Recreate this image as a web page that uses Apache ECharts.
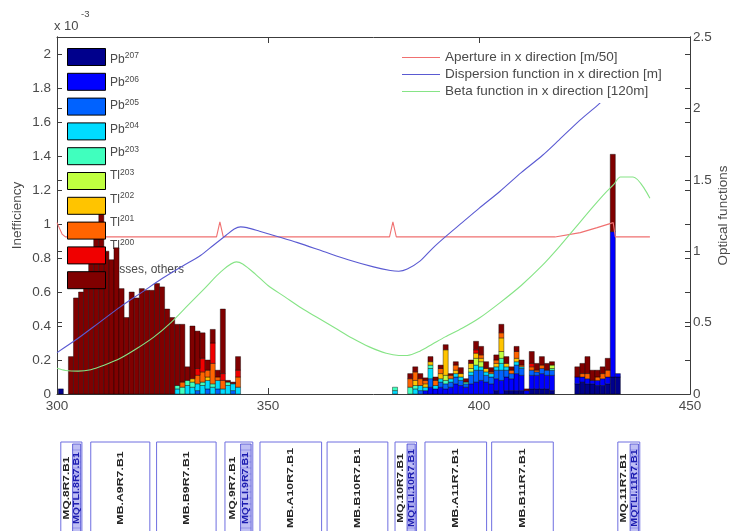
<!DOCTYPE html>
<html>
<head>
<meta charset="utf-8">
<script src="https://cdn.jsdelivr.net/npm/echarts@6/dist/echarts.min.js"></script>
<style>
  html, body { margin: 0; padding: 0; background: #fff; }
  #chart { width: 732px; height: 531px; }
</style>
</head>
<body>
<div id="chart"></div>
<script>
// ---- Loss histogram: bin left edges along s [m], each bin BIN_WIDTH wide ----
const BIN_WIDTH = 1.2;
const binStart = [300.3,
  302.7, 303.9, 305.1, 306.3, 307.5, 308.7, 309.9, 311.1, 312.3, 313.5,
  314.7, 315.9, 317.1, 318.3, 319.5, 320.7, 321.9, 323.1, 324.3, 325.5,
  326.7, 327.9, 329.1, 330.3, 331.5, 332.7, 333.9, 335.1, 336.3, 337.5,
  338.7, 339.9, 341.1, 342.3,
  379.5,
  383.1, 384.3, 385.5, 386.7, 387.9, 389.1, 390.3, 391.5, 392.7, 393.9,
  395.1, 396.3, 397.5, 398.7, 399.9, 401.1, 402.3, 403.5, 404.7, 405.9,
  407.1, 408.3, 409.5, 410.7, 411.9, 413.1, 414.3, 415.5, 416.7,
  422.7, 423.9, 425.1, 426.3, 427.5, 428.7, 429.9, 431.1, 432.3];

// Inefficiency per bin for each fragment species, in units of 1e-3
const pb207 = [0.03,
  0, 0, 0, 0, 0, 0, 0, 0, 0, 0,
  0, 0, 0, 0, 0, 0, 0, 0, 0, 0,
  0, 0, 0, 0, 0, 0, 0, 0, 0, 0,
  0, 0, 0, 0,
  0,
  0, 0, 0, 0, 0, 0, 0, 0, 0, 0,
  0, 0, 0, 0, 0, 0, 0, 0.02, 0, 0.02,
  0.02, 0.02, 0.02, 0, 0.03, 0.03, 0.03, 0.03, 0.02,
  0.06, 0.07, 0.06, 0.06, 0.05, 0.05, 0.06, 0.10, 0.10];
const pb206 = [0,
  0, 0, 0, 0, 0, 0, 0, 0, 0, 0,
  0, 0, 0, 0, 0, 0, 0, 0, 0, 0,
  0, 0, 0, 0, 0, 0, 0, 0, 0, 0,
  0, 0, 0, 0,
  0,
  0, 0, 0, 0.02, 0.04, 0.03, 0.04, 0.03, 0.04, 0.06,
  0.05, 0.04, 0.06, 0.07, 0.08, 0.07, 0.06, 0.07, 0.08, 0.08,
  0.07, 0.10, 0.09, 0.02, 0.08, 0.08, 0.09, 0.08, 0.09,
  0.04, 0.03, 0.03, 0.02, 0.03, 0.04, 0.04, 0.855, 0.02];
const pb205 = [0,
  0, 0, 0, 0, 0, 0, 0, 0, 0, 0,
  0, 0, 0, 0, 0, 0, 0, 0, 0, 0,
  0, 0, 0, 0, 0, 0.02, 0, 0.03, 0, 0.03,
  0, 0, 0.02, 0,
  0,
  0, 0, 0.02, 0, 0.05, 0, 0.03, 0.03, 0.03, 0.04,
  0.03, 0.02, 0.05, 0.07, 0.06, 0.04, 0.04, 0.05, 0.06, 0.04,
  0.03, 0.05, 0.04, 0, 0.03, 0.02, 0.03, 0.03, 0.03,
  0, 0, 0, 0, 0, 0, 0, 0, 0];
const pb204 = [0,
  0, 0, 0, 0, 0, 0, 0, 0, 0, 0,
  0, 0, 0, 0, 0, 0, 0, 0, 0, 0,
  0, 0.03, 0, 0.05, 0.04, 0.04, 0.05, 0.05, 0.04, 0.05,
  0.03, 0.05, 0.04, 0.04,
  0.02,
  0, 0.03, 0.03, 0.02, 0.06, 0.02, 0.02, 0, 0.02, 0.02,
  0.02, 0, 0.02, 0.03, 0.02, 0.02, 0.02, 0.02, 0.04, 0.02,
  0, 0.02, 0.01, 0, 0, 0, 0, 0, 0,
  0, 0, 0, 0, 0, 0, 0, 0, 0];
const pb203 = [0,
  0, 0, 0, 0, 0, 0, 0, 0, 0, 0,
  0, 0, 0, 0, 0, 0, 0, 0, 0, 0,
  0, 0.02, 0.04, 0.03, 0.03, 0, 0.02, 0, 0.02, 0,
  0, 0.02, 0, 0,
  0.02,
  0.04, 0.02, 0, 0, 0.02, 0, 0, 0.02, 0, 0,
  0, 0.01, 0, 0, 0, 0, 0, 0, 0.03, 0,
  0, 0, 0, 0, 0, 0, 0, 0, 0.01,
  0, 0, 0, 0, 0, 0, 0, 0, 0];
const tl203 = [0,
  0, 0, 0, 0, 0, 0, 0, 0, 0, 0,
  0, 0, 0, 0, 0, 0, 0, 0, 0, 0,
  0, 0, 0, 0, 0, 0, 0, 0, 0, 0,
  0, 0, 0, 0,
  0,
  0, 0, 0, 0, 0, 0, 0, 0.03, 0, 0,
  0, 0, 0.02, 0.04, 0.03, 0, 0, 0, 0.04, 0,
  0, 0, 0, 0, 0, 0, 0, 0, 0.02,
  0, 0, 0, 0, 0, 0, 0, 0, 0];
const tl202 = [0,
  0, 0, 0, 0, 0, 0, 0, 0, 0, 0,
  0, 0, 0, 0, 0, 0, 0, 0, 0, 0,
  0, 0, 0, 0, 0.02, 0, 0, 0.02, 0, 0,
  0, 0, 0, 0,
  0,
  0, 0.03, 0, 0.02, 0.02, 0, 0.03, 0.15, 0, 0.02,
  0.02, 0, 0.03, 0.03, 0.02, 0.02, 0, 0.02, 0.08, 0.02,
  0, 0.02, 0, 0, 0, 0, 0, 0, 0,
  0, 0, 0, 0, 0, 0, 0, 0, 0];
const tl201 = [0,
  0, 0, 0, 0, 0, 0, 0, 0, 0, 0,
  0, 0, 0, 0, 0, 0, 0, 0, 0, 0,
  0, 0, 0.03, 0, 0, 0.05, 0.06, 0.04, 0.12, 0.02,
  0.05, 0, 0, 0.06,
  0,
  0.05, 0.05, 0.04, 0.02, 0, 0.03, 0.03, 0, 0.02, 0.03,
  0, 0, 0, 0, 0.02, 0, 0.01, 0.02, 0.03, 0,
  0.02, 0.04, 0.01, 0, 0.02, 0.01, 0.02, 0, 0,
  0, 0.02, 0.03, 0, 0.02, 0.03, 0.04, 0, 0];
const tl200 = [0,
  0, 0, 0, 0, 0, 0, 0, 0, 0, 0,
  0, 0, 0, 0, 0, 0, 0, 0, 0, 0,
  0, 0, 0, 0, 0, 0.04, 0.08, 0, 0.12, 0,
  0.04, 0, 0, 0.04,
  0,
  0, 0, 0, 0, 0, 0, 0, 0, 0, 0,
  0, 0, 0, 0.02, 0, 0, 0, 0, 0, 0,
  0, 0, 0, 0, 0.02, 0, 0, 0, 0,
  0, 0, 0, 0, 0, 0, 0, 0, 0];
const lossesOthers = [0,
  0.22, 0.565, 0.60, 0.63, 0.82, 0.98, 1.08, 0.84, 0.79, 0.86,
  0.62, 0.45, 0.60, 0.565, 0.62, 0.61, 0.61, 0.65, 0.63, 0.50,
  0.45, 0.36, 0.34, 0.08, 0.31, 0.22, 0.15, 0.06, 0.08, 0.04,
  0.38, 0.01, 0.01, 0.08,
  0,
  0.03, 0.03, 0.03, 0.015, 0.03, 0.02, 0.02, 0.03, 0.01, 0.02,
  0.035, 0.02, 0.02, 0.05, 0.05, 0.04, 0.025, 0.03, 0.05, 0.04,
  0.02, 0.03, 0.03, 0.01, 0.07, 0.04, 0.05, 0.04, 0.02,
  0.06, 0.06, 0.10, 0.06, 0.04, 0.04, 0.07, 0.455, 0];

const speciesNames   = ['Pb207', 'Pb206', 'Pb205', 'Pb204', 'Pb203', 'Tl203', 'Tl202', 'Tl201', 'Tl200', 'losses, others'];
const speciesElement = ['Pb', 'Pb', 'Pb', 'Pb', 'Pb', 'Tl', 'Tl', 'Tl', 'Tl', 'losses, others'];
const speciesMass    = ['207', '206', '205', '204', '203', '203', '202', '201', '200', ''];
const speciesColors  = ['#00008c', '#0000ff', '#0062ff', '#00dcff', '#40ffbe', '#c0ff40', '#ffc400', '#ff6400', '#f00000', '#800000'];
const speciesValues  = [pb207, pb206, pb205, pb204, pb203, tl203, tl202, tl201, tl200, lossesOthers];

// ---- Optical functions along s [m] ----
const apertureS   = [300, 300.6, 301.2, 302, 337.8, 338.6, 339.4, 378.8, 379.6, 380.4, 418, 424, 428, 431.8, 432.3, 440.5];
const apertureVal = [1.20, 1.16, 1.12, 1.10, 1.10, 1.205, 1.10, 1.10, 1.205, 1.10, 1.10, 1.13, 1.165, 1.20, 1.10, 1.10];

const dispersionS   = [300, 305, 310, 315, 320, 325, 330, 334, 337, 340, 342, 343.5, 345, 348, 352, 357, 363, 369, 375, 379, 381, 383, 386, 389, 392, 396, 400, 405, 410, 415, 419, 424, 428, 432, 436, 440.5];
const dispersionVal = [0.29, 0.39, 0.50, 0.61, 0.71, 0.81, 0.90, 0.97, 1.04, 1.11, 1.155, 1.17, 1.165, 1.14, 1.105, 1.06, 1.00, 0.94, 0.89, 0.865, 0.86, 0.875, 0.93, 1.02, 1.10, 1.20, 1.30, 1.42, 1.55, 1.67, 1.78, 1.92, 2.02, 2.13, 2.24, 2.36];

const betaS   = [300, 302, 305, 308, 311, 315, 319, 323, 327, 331, 335, 339, 342.5, 344, 347, 350, 354, 358, 362, 366, 370, 374, 378, 381, 383, 386, 389, 392, 396, 400, 405, 410, 415, 419, 423, 427, 430, 432, 433.5, 436.5, 440.5];
const betaVal = [0.18, 0.165, 0.16, 0.17, 0.20, 0.25, 0.32, 0.40, 0.50, 0.62, 0.74, 0.86, 0.925, 0.91, 0.84, 0.76, 0.68, 0.60, 0.53, 0.46, 0.39, 0.33, 0.285, 0.27, 0.27, 0.30, 0.35, 0.40, 0.46, 0.53, 0.64, 0.76, 0.90, 1.03, 1.17, 1.31, 1.41, 1.47, 1.52, 1.52, 1.37];

const opticsNames  = ['Aperture in x direction [m/50]', 'Dispersion function in x direction [m]', 'Beta function in x direction [120m]'];
const opticsColors = ['#f07070', '#5a5ad2', '#86e486'];

// ---- Machine elements along s [m] ----
const elementNames  = ['MQ.8R7.B1', 'MB.A9R7.B1', 'MB.B9R7.B1', 'MQ.9R7.B1', 'MB.A10R7.B1', 'MB.B10R7.B1', 'MQ.10R7.B1', 'MB.A11R7.B1', 'MB.B11R7.B1', 'MQ.11R7.B1'];
const elementStart  = [300.9, 308.0, 323.6, 339.8, 348.1, 364.0, 380.1, 387.2, 403.0, 432.9];
const elementEnd    = [305.9, 322.0, 337.7, 346.4, 362.7, 378.4, 385.2, 401.8, 417.6, 438.1];
const elementExtra  = ['MQTLI.8R7.B1', '', '', 'MQTLI.9R7.B1', '', '', 'MQTLI.10R7.B1', '', '', 'MQTLI.11R7.B1'];

// ---- styling ----
const FONT = 'Liberation Sans, Arial, Helvetica, sans-serif';
const AXIS_COLOR = '#3c3c3c';
const LABEL_COLOR = '#4a4a4a';
const FS = 13.5;

// stacked rectangles: each item is [binStart, lower, upper]
const stackBase = binStart.map(() => 0);
const barSeries = speciesValues.map((vals, i) => {
  const data = [];
  vals.forEach((v, j) => {
    if (v > 0) data.push([binStart[j], stackBase[j], stackBase[j] + v]);
    stackBase[j] += v;
  });
  const color = speciesColors[i];
  return {
    type: 'custom',
    name: speciesNames[i],
    xAxisIndex: 0,
    yAxisIndex: 0,
    z: 2,
    itemStyle: { color: color },
    encode: { x: 0, y: [1, 2] },
    data: data,
    renderItem: function (params, api) {
      const s = api.value(0), lo = api.value(1), hi = api.value(2);
      const a = api.coord([s, hi]);
      const b = api.coord([s + BIN_WIDTH, lo]);
      return {
        type: 'rect',
        shape: { x: a[0], y: a[1], width: b[0] - a[0], height: b[1] - a[1] },
        style: { fill: color, stroke: 'rgba(0,0,0,0.8)', lineWidth: 0.5 }
      };
    }
  };
});

const zip = (xs, ys) => xs.map((x, k) => [x, ys[k]]);
const lineSeries = [
  { data: zip(apertureS, apertureVal), smooth: false },
  { data: zip(dispersionS, dispersionVal), smooth: 0.3 },
  { data: zip(betaS, betaVal), smooth: 0.3 }
].map((d, i) => ({
  type: 'line',
  name: opticsNames[i],
  xAxisIndex: 0,
  yAxisIndex: 1,
  z: 3,
  symbol: 'none',
  smooth: d.smooth,
  itemStyle: { color: opticsColors[i] },
  lineStyle: { color: opticsColors[i], width: 1.1 },
  data: d.data
}));

const elementSeries = {
  type: 'custom',
  name: 'elements',
  xAxisIndex: 2,
  yAxisIndex: 4,
  z: 2,
  encode: { x: [0, 1], y: 2 },
  data: elementNames.map((n, k) => [elementStart[k], elementEnd[k], 1]),
  renderItem: function (params, api) {
    const k = params.dataIndex;
    const p0 = api.coord([api.value(0), 1]);
    const p1 = api.coord([api.value(1), 1]);
    const x0 = p0[0], x1 = p1[0], top = p0[1] + 1, w = x1 - x0;
    const children = [{
      type: 'rect',
      shape: { x: x0, y: top, width: w, height: 120 },
      style: { fill: '#fff', stroke: '#6e6ee0', lineWidth: 1 }
    }];
    const textStyle = (txt, fill) => ({
      text: txt, fill: fill, fontSize: 8.5, fontWeight: 'bold', fontFamily: FONT,
      align: 'center', verticalAlign: 'middle'
    });
    if (elementExtra[k]) {
      const cx = x0 + w * 0.28;
      const bx0 = x0 + w * 0.56, bx1 = x0 + w * 0.94;
      children.push({
        type: 'rect',
        shape: { x: bx0, y: top + 2, width: bx1 - bx0, height: 120 },
        style: { fill: 'rgba(86,86,226,0.38)', stroke: '#4646d0', lineWidth: 0.8 }
      });
      for (let yy = top + 8; yy < top + 92; yy += 6) {
        children.push({
          type: 'line',
          shape: { x1: bx0, y1: yy, x2: bx1, y2: yy },
          style: { stroke: 'rgba(60,60,210,0.55)', lineWidth: 0.6 }
        });
      }
      children.push({
        type: 'text', x: cx, y: top + 46, rotation: Math.PI / 2, scaleX: 1.4,
        style: textStyle(elementNames[k], '#262626')
      });
      children.push({
        type: 'text', x: (bx0 + bx1) / 2, y: top + 46, rotation: Math.PI / 2, scaleX: 1.25,
        style: textStyle(elementExtra[k], '#1c1cb0')
      });
    } else {
      children.push({
        type: 'text', x: (x0 + x1) / 2, y: top + 46, rotation: Math.PI / 2, scaleX: 1.45,
        style: textStyle(elementNames[k], '#262626')
      });
    }
    return { type: 'group', children: children };
  }
};

const speciesLabel = (name) => {
  const i = speciesNames.indexOf(name);
  return speciesMass[i]
    ? '{el|' + speciesElement[i] + '}{sup|' + speciesMass[i] + '}'
    : '{el|' + speciesElement[i] + '}';
};

const axisCommon = {
  axisLine: { show: true, onZero: false, lineStyle: { color: AXIS_COLOR, width: 1 } },
  axisTick: { show: true, inside: true, length: 5, lineStyle: { color: AXIS_COLOR } },
  splitLine: { show: false }
};

const option = {
  animation: false,
  backgroundColor: '#fff',
  textStyle: { fontFamily: FONT },
  grid: [
    { left: 57, right: 42, top: 37, bottom: 137, containLabel: false, outerBoundsMode: 'none' },
    { left: 57, right: 42, top: 441, bottom: 0, containLabel: false, outerBoundsMode: 'none' }
  ],
  xAxis: [
    Object.assign({}, axisCommon, {
      gridIndex: 0, type: 'value', min: 300, max: 450, interval: 50, position: 'bottom',
      axisTick: { show: true, inside: true, length: 6, lineStyle: { color: AXIS_COLOR } },
      axisLabel: { color: LABEL_COLOR, fontSize: FS, margin: 5, fontFamily: FONT }
    }),
    Object.assign({}, axisCommon, {
      gridIndex: 0, type: 'value', min: 300, max: 450, interval: 50, position: 'top',
      axisTick: { show: true, inside: true, length: 6, lineStyle: { color: AXIS_COLOR } },
      axisLabel: { show: false }
    }),
    { gridIndex: 1, type: 'value', min: 300, max: 450, show: false }
  ],
  yAxis: [
    Object.assign({}, axisCommon, {
      gridIndex: 0, type: 'value', min: 0, max: 2.1, interval: 0.2, position: 'left',
      name: 'Inefficiency', nameLocation: 'middle', nameRotate: 90, nameGap: 33, nameMoveOverlap: false,
      nameTextStyle: { color: LABEL_COLOR, fontSize: FS, fontFamily: FONT },
      axisLabel: { color: LABEL_COLOR, fontSize: FS, margin: 6, showMaxLabel: false, fontFamily: FONT }
    }),
    Object.assign({}, axisCommon, {
      gridIndex: 0, type: 'value', min: 0, max: 2.5, interval: 0.5, position: 'right',
      name: 'Optical functions', nameLocation: 'middle', nameRotate: 90, nameGap: 26, nameMoveOverlap: false,
      nameTextStyle: { color: LABEL_COLOR, fontSize: FS, fontFamily: FONT },
      axisLabel: { color: LABEL_COLOR, fontSize: FS, margin: 3, fontFamily: FONT }
    }),
    Object.assign({}, axisCommon, {
      gridIndex: 0, type: 'value', min: 0, max: 2.1, interval: 0.2, position: 'right',
      axisLabel: { show: false }
    }),
    Object.assign({}, axisCommon, {
      gridIndex: 0, type: 'value', min: 0, max: 2.5, interval: 0.5, position: 'left',
      axisLabel: { show: false }
    }),
    { gridIndex: 1, type: 'value', min: 0, max: 1, show: false }
  ],
  legend: [
    {
      // species names, drawn beneath the bars
      data: speciesNames, z: 1, selectedMode: false,
      orient: 'vertical', left: 67, top: 45.5, padding: 0,
      itemWidth: 38, itemHeight: 17, itemGap: 1.8, icon: 'rect',
      itemStyle: { color: 'rgba(0,0,0,0)', borderWidth: 0, opacity: 0 },
      formatter: speciesLabel,
      textStyle: {
        rich: {
          el: { fontSize: 12, color: LABEL_COLOR, fontFamily: FONT, lineHeight: 14, padding: [8, 0, 0, 0], verticalAlign: 'bottom' },
          sup: { fontSize: 8.5, color: LABEL_COLOR, fontFamily: FONT, lineHeight: 10, verticalAlign: 'top' }
        }
      }
    },
    {
      // colour patches, drawn above the bars
      data: speciesNames, z: 6, selectedMode: false,
      orient: 'vertical', left: 67, top: 48, padding: 0,
      itemWidth: 38, itemHeight: 17, itemGap: 6.8, icon: 'rect',
      itemStyle: { borderColor: '#000', borderWidth: 1 },
      formatter: () => '',
      textStyle: { fontSize: 1 }
    },
    {
      data: opticsNames, z: 7, selectedMode: false,
      orient: 'vertical', left: 398, top: 46, padding: [4, 6, 4, 4],
      backgroundColor: '#fff',
      icon: 'rect', itemWidth: 38, itemHeight: 1.2, itemGap: 2,
      textStyle: { color: LABEL_COLOR, fontSize: FS, lineHeight: 15, fontFamily: FONT }
    }
  ],
  graphic: [
    { type: 'text', left: 54, top: 20, style: { text: 'x 10', fill: LABEL_COLOR, fontSize: 13, fontFamily: FONT } },
    { type: 'text', left: 81, top: 9, style: { text: '-3', fill: LABEL_COLOR, fontSize: 9.5, fontFamily: FONT } }
  ],
  series: barSeries.concat(lineSeries, [elementSeries])
};

const chart = echarts.init(document.getElementById('chart'), null, { renderer: 'canvas' });
chart.setOption(option);
</script>
</body>
</html>
